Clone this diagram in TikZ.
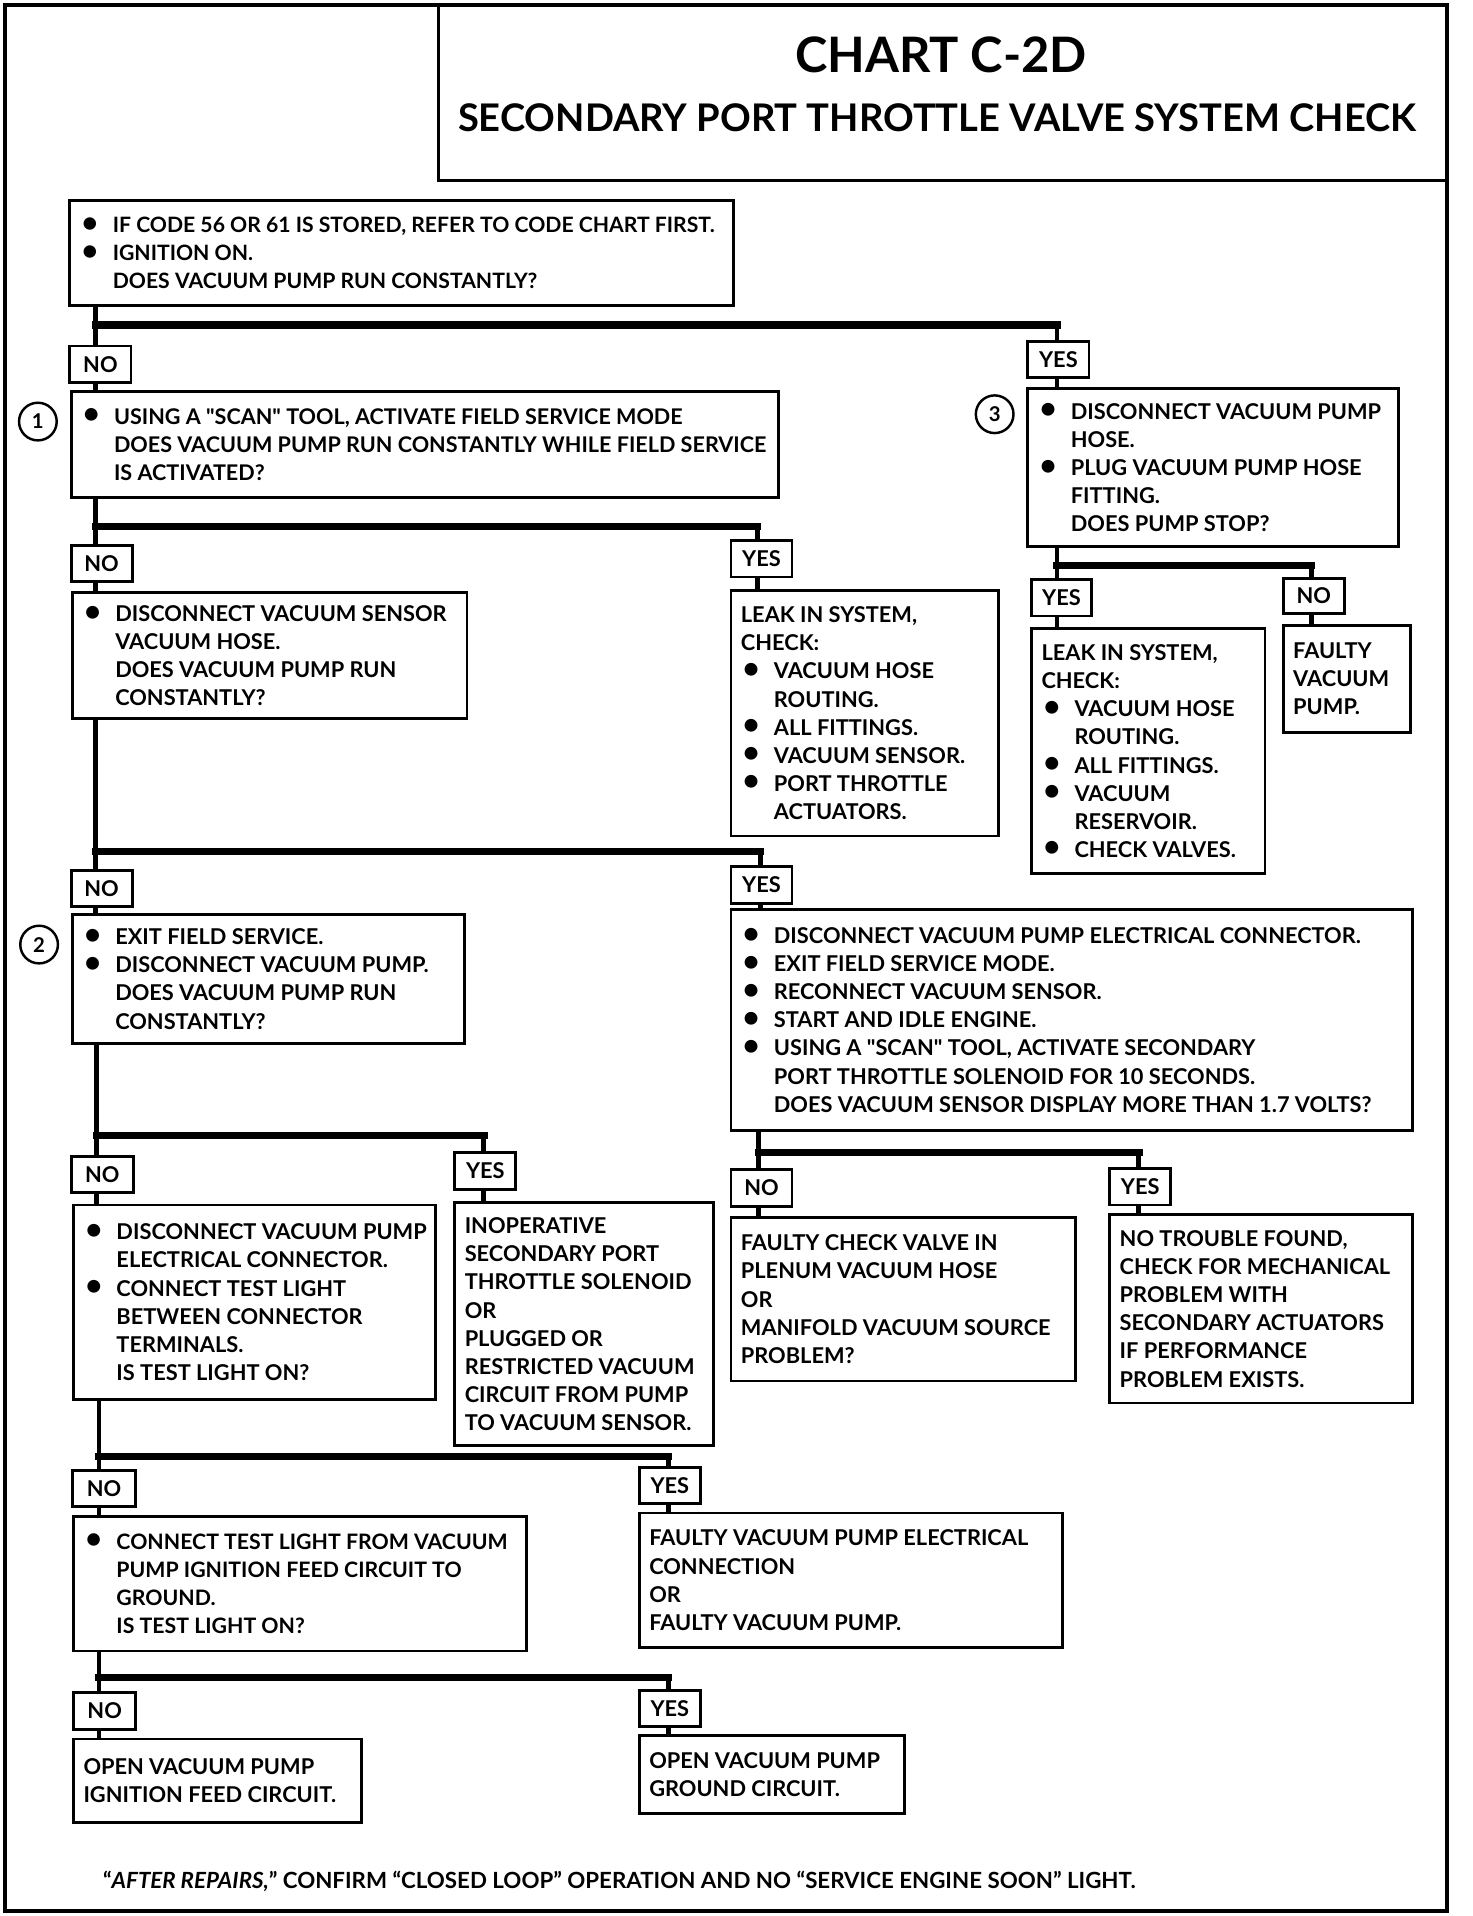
\documentclass[tikz,border=0pt]{standalone}
\usepackage{fontspec}
\setmainfont{Lato}[Ligatures=TeXOff]
\newcommand{\bl}{\makebox[16.2pt][l]{\hspace{0.9pt}\raisebox{0.2pt}{\scalebox{1.35}{\textbullet}}}}
\newcommand{\ct}{\hspace*{16.2pt}}
\newcommand{\bbox}[7][10.7]{%
  \pgfmathsetmacro\bw{(#5-#3)*0.6}%
  \pgfmathsetmacro\bh{(#6-#4)*0.6}%
  \node[box, minimum width=\bw pt, minimum height=\bh pt, anchor=north west] (#2) at (#3,#4) {};
  \node[btext, font=\fontsize{#1}{13.8}\selectfont\bfseries, anchor=west] (#2-t) at ([xshift=5.4pt]#2.west) {#7};}
\newcommand{\lbox}[6]{%
  \pgfmathsetmacro\bw{(#4-#2)*0.6}%
  \pgfmathsetmacro\bh{(#5-#3)*0.6}%
  \node[lab, minimum width=\bw pt, minimum height=\bh pt, anchor=north west] (#1) at (#2,#3) {#6};}
\tikzset{
  box/.style={draw, line width=1.4pt, fill=white, inner sep=0pt},
  btext/.style={inner sep=0pt, align=left},
  lab/.style={draw, line width=1.4pt, fill=white, inner sep=0pt,
    font=\fontsize{10.7}{13.8}\selectfont\bfseries},
  vl/.style={line width=2.4pt},
  barl/.style={line width=3.6pt, line cap=rect},
  num/.style={draw, circle, line width=1.2pt, minimum size=18.5pt, inner sep=0pt,
    font=\fontsize{10}{12}\selectfont\bfseries},
}
\begin{document}
\begin{tikzpicture}[x=0.6pt, y=-0.6pt]
\useasboundingbox (0,0) rectangle (1205,1568);
% frame and title
\draw[line width=1.8pt] (4,4) rectangle (1184,1564);
\draw[line width=1.6pt] (359,4) -- (359,148) -- (1184,148);
\node[font=\fontsize{24}{28}\selectfont\bfseries] (t1) at (770,45) {CHART C-2D};
\node[font=\fontsize{18.7}{20}\selectfont\bfseries] (t2) at (767,96) {SECONDARY PORT THROTTLE VALVE SYSTEM CHECK};

% boxes
\bbox[10.4]{A}{56}{163}{599}{249}{\bl IF CODE 56 OR 61 IS STORED, REFER TO CODE CHART FIRST.\\ \bl IGNITION ON.\\ \ct DOES VACUUM PUMP RUN CONSTANTLY?}
\bbox[10.6]{B1}{57}{319}{636}{406}{\bl USING A "SCAN" TOOL, ACTIVATE FIELD SERVICE MODE\\ \ct DOES VACUUM PUMP RUN CONSTANTLY WHILE FIELD SERVICE\\ \ct IS ACTIVATED?}
\bbox{B3}{840}{317}{1143}{446}{\bl DISCONNECT VACUUM PUMP\\ \ct HOSE.\\ \bl PLUG VACUUM PUMP HOSE\\ \ct FITTING.\\ \ct DOES PUMP STOP?}
\bbox{BB}{58}{484}{381}{587}{\bl DISCONNECT VACUUM SENSOR\\ \ct VACUUM HOSE.\\ \ct DOES VACUUM PUMP RUN\\ \ct CONSTANTLY?}
\bbox{BC}{597}{482}{816}{683}{LEAK IN SYSTEM,\\ CHECK:\\ \bl VACUUM HOSE\\ \ct ROUTING.\\ \bl ALL FITTINGS.\\ \bl VACUUM SENSOR.\\ \bl PORT THROTTLE\\ \ct ACTUATORS.}
\bbox{BD}{843}{513}{1034}{714}{LEAK IN SYSTEM,\\ CHECK:\\ \bl VACUUM HOSE\\ \ct ROUTING.\\ \bl ALL FITTINGS.\\ \bl VACUUM\\ \ct RESERVOIR.\\ \bl CHECK VALVES.}
\bbox{BE}{1049}{511}{1153}{598}{FAULTY\\ VACUUM\\ PUMP.}
\bbox{B2}{58}{747}{379}{853}{\bl EXIT FIELD SERVICE.\\ \bl DISCONNECT VACUUM PUMP.\\ \ct DOES VACUUM PUMP RUN\\ \ct CONSTANTLY?}
\bbox{BF}{597}{743}{1155}{924}{\bl DISCONNECT VACUUM PUMP ELECTRICAL CONNECTOR.\\ \bl EXIT FIELD SERVICE MODE.\\ \bl RECONNECT VACUUM SENSOR.\\ \bl START AND IDLE ENGINE.\\ \bl USING A "SCAN" TOOL, ACTIVATE SECONDARY\\ \ct PORT THROTTLE SOLENOID FOR 10 SECONDS.\\ \ct DOES VACUUM SENSOR DISPLAY MORE THAN 1.7 VOLTS?}
\bbox{BG}{597}{995}{879}{1129}{FAULTY CHECK VALVE IN\\ PLENUM VACUUM HOSE\\ OR\\ MANIFOLD VACUUM SOURCE\\ PROBLEM?}
\bbox{BH}{907}{993}{1155}{1147}{NO TROUBLE FOUND,\\ CHECK FOR MECHANICAL\\ PROBLEM WITH\\ SECONDARY ACTUATORS\\ IF PERFORMANCE\\ PROBLEM EXISTS.}
\bbox{BI}{59}{985}{355}{1144}{\bl DISCONNECT VACUUM PUMP\\ \ct ELECTRICAL CONNECTOR.\\ \bl CONNECT TEST LIGHT\\ \ct BETWEEN CONNECTOR\\ \ct TERMINALS.\\ \ct IS TEST LIGHT ON?}
\bbox{BJ}{371}{983}{583}{1182}{INOPERATIVE\\ SECONDARY PORT\\ THROTTLE SOLENOID\\ OR\\ PLUGGED OR\\ RESTRICTED VACUUM\\ CIRCUIT FROM PUMP\\ TO VACUUM SENSOR.}
\bbox[10.45]{BK}{59}{1240}{430}{1350}{\bl CONNECT TEST LIGHT FROM VACUUM\\ \ct PUMP IGNITION FEED CIRCUIT TO\\ \ct GROUND.\\ \ct IS TEST LIGHT ON?}
\bbox{BL}{522}{1237}{868}{1347}{FAULTY VACUUM PUMP ELECTRICAL\\ CONNECTION\\ OR\\ FAULTY VACUUM PUMP.}
\bbox{BM}{59}{1422}{295}{1490}{OPEN VACUUM PUMP\\ IGNITION FEED CIRCUIT.}
\bbox{BN}{522}{1419}{739}{1483}{OPEN VACUUM PUMP\\ GROUND CIRCUIT.}

% labels
\lbox{n1}{56}{282}{106}{312}{NO}
\lbox{y1}{840}{278}{890}{308}{YES}
\lbox{n2}{57}{445}{107}{475}{NO}
\lbox{y2}{597}{441}{647}{471}{YES}
\lbox{y3}{843}{473}{892}{503}{YES}
\lbox{n3}{1049}{472}{1099}{501}{NO}
\lbox{n4}{57}{711}{107}{741}{NO}
\lbox{y4}{597}{708}{647}{738}{YES}
\lbox{n5}{597}{956}{647}{986}{NO}
\lbox{y5}{907}{955}{957}{985}{YES}
\lbox{n6}{57}{945}{108}{975}{NO}
\lbox{y6}{371}{942}{421}{972}{YES}
\lbox{n7}{58}{1202}{110}{1232}{NO}
\lbox{y7}{522}{1200}{572}{1229}{YES}
\lbox{n8}{59}{1384}{110}{1414}{NO}
\lbox{y8}{522}{1382}{572}{1412}{YES}

% numbered circles
\node[num] (c1) at (31,345) {1};
\node[num] (c3) at (814,339) {3};
\node[num] (c2) at (32,773) {2};

% bar corner coordinates
\coordinate (s1) at (78,266);  \coordinate (e1) at (865,266);
\coordinate (s2) at (78,431);  \coordinate (e2) at (620,431);
\coordinate (s3) at (865,463); \coordinate (e3) at (1073,463);
\coordinate (s4) at (78,697);  \coordinate (e4) at (622,697);
\coordinate (s5) at (621,943); \coordinate (e5) at (932,943);
\coordinate (s6) at (79,929);  \coordinate (e6) at (396,929);
\coordinate (s7) at (81,1192); \coordinate (e7) at (547,1192);
\coordinate (s8) at (81,1373); \coordinate (e8) at (547,1373);

% decision 1
\draw[vl] (s1 |- A.south) -- (s1 |- n1.north);
\draw[barl] (s1) -- (e1);
\draw[vl] (e1) -- (e1 |- y1.north);
\draw[vl] (s1 |- n1.south) -- (s1 |- B1.north);
\draw[vl] (e1 |- y1.south) -- (e1 |- B3.north);
% decision 2
\draw[vl] (s2 |- B1.south) -- (s2 |- n2.north);
\draw[barl] (s2) -- (e2);
\draw[vl] (e2) -- (e2 |- y2.north);
\draw[vl] (s2 |- n2.south) -- (s2 |- BB.north);
\draw[vl] (e2 |- y2.south) -- (e2 |- BC.north);
% decision 3
\draw[vl] (s3 |- B3.south) -- (s3 |- y3.north);
\draw[barl] (s3) -- (e3);
\draw[vl] (e3) -- (e3 |- n3.north);
\draw[vl] (s3 |- y3.south) -- (s3 |- BD.north);
\draw[vl] (e3 |- n3.south) -- (e3 |- BE.north);
% decision 4
\draw[vl] (s4 |- BB.south) -- (s4 |- n4.north);
\draw[barl] (s4) -- (e4);
\draw[vl] (e4) -- (e4 |- y4.north);
\draw[vl] (s4 |- n4.south) -- (s4 |- B2.north);
\draw[vl] (e4 |- y4.south) -- (e4 |- BF.north);
% decision 5
\draw[vl] (s5 |- BF.south) -- (s5 |- n5.north);
\draw[barl] (s5) -- (e5);
\draw[vl] (e5) -- (e5 |- y5.north);
\draw[vl] (s5 |- n5.south) -- (s5 |- BG.north);
\draw[vl] (e5 |- y5.south) -- (e5 |- BH.north);
% decision 6
\draw[vl] (s6 |- B2.south) -- (s6 |- n6.north);
\draw[barl] (s6) -- (e6);
\draw[vl] (e6) -- (e6 |- y6.north);
\draw[vl] (s6 |- n6.south) -- (s6 |- BI.north);
\draw[vl] (e6 |- y6.south) -- (e6 |- BJ.north);
% decision 7
\draw[vl] (s7 |- BI.south) -- (s7 |- n7.north);
\draw[barl] (s7) -- (e7);
\draw[vl] (e7) -- (e7 |- y7.north);
\draw[vl] (s7 |- n7.south) -- (s7 |- BK.north);
\draw[vl] (e7 |- y7.south) -- (e7 |- BL.north);
% decision 8
\draw[vl] (s8 |- BK.south) -- (s8 |- n8.north);
\draw[barl] (s8) -- (e8);
\draw[vl] (e8) -- (e8 |- y8.north);
\draw[vl] (s8 |- n8.south) -- (s8 |- BM.north);
\draw[vl] (e8 |- y8.south) -- (e8 |- BN.north);

% footer
\node[anchor=west, inner sep=0pt, font=\fontsize{10.95}{13.8}\selectfont\bfseries] (foot) at (84,1540)
  {“\textit{AFTER REPAIRS,}” CONFIRM “CLOSED LOOP” OPERATION AND NO “SERVICE ENGINE SOON” LIGHT.};
\end{tikzpicture}
\end{document}
